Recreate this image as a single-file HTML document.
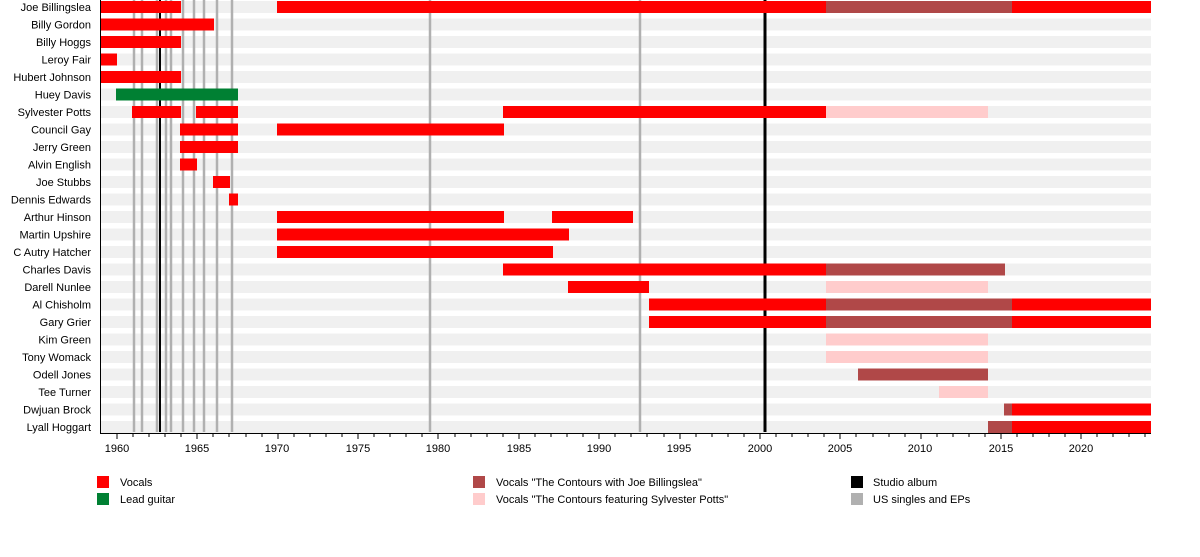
<!DOCTYPE html>
<html><head><meta charset="utf-8"><style>
body{margin:0;background:#fff;}
svg{display:block;font-family:"Liberation Sans",sans-serif;font-size:11px;}
</style></head><body>
<svg width="1200" height="557" viewBox="0 0 1200 557" xmlns="http://www.w3.org/2000/svg">
<g fill="#f0f0f0">
<rect x="100" y="1" width="1051" height="12"/><rect x="100" y="18.5" width="1051" height="12"/><rect x="100" y="36" width="1051" height="12"/><rect x="100" y="53.5" width="1051" height="12"/><rect x="100" y="71" width="1051" height="12"/><rect x="100" y="88.5" width="1051" height="12"/><rect x="100" y="106" width="1051" height="12"/><rect x="100" y="123.5" width="1051" height="12"/><rect x="100" y="141" width="1051" height="12"/><rect x="100" y="158.5" width="1051" height="12"/><rect x="100" y="176" width="1051" height="12"/><rect x="100" y="193.5" width="1051" height="12"/><rect x="100" y="211" width="1051" height="12"/><rect x="100" y="228.5" width="1051" height="12"/><rect x="100" y="246" width="1051" height="12"/><rect x="100" y="263.5" width="1051" height="12"/><rect x="100" y="281" width="1051" height="12"/><rect x="100" y="298.5" width="1051" height="12"/><rect x="100" y="316" width="1051" height="12"/><rect x="100" y="333.5" width="1051" height="12"/><rect x="100" y="351" width="1051" height="12"/><rect x="100" y="368.5" width="1051" height="12"/><rect x="100" y="386" width="1051" height="12"/><rect x="100" y="403.5" width="1051" height="12"/><rect x="100" y="421" width="1051" height="12"/>
</g>
<g stroke="#b0b0b0" stroke-width="2.5">
<line x1="134" y1="0" x2="134" y2="432"/><line x1="142" y1="0" x2="142" y2="432"/><line x1="157" y1="0" x2="157" y2="432"/><line x1="166" y1="0" x2="166" y2="432"/><line x1="171" y1="0" x2="171" y2="432"/><line x1="183" y1="0" x2="183" y2="432"/><line x1="194" y1="0" x2="194" y2="432"/><line x1="204" y1="0" x2="204" y2="432"/><line x1="217" y1="0" x2="217" y2="432"/><line x1="232" y1="0" x2="232" y2="432"/><line x1="430" y1="0" x2="430" y2="432"/><line x1="640" y1="0" x2="640" y2="432"/>
</g>
<g stroke="#000">
<line x1="160" y1="0" x2="160" y2="432" stroke-width="2"/><line x1="765" y1="0" x2="765" y2="432" stroke-width="3"/>
</g>
<g>
<rect x="100" y="1" width="81" height="12" fill="#f00"/><rect x="277" y="1" width="549" height="12" fill="#f00"/><rect x="826" y="1" width="186" height="12" fill="#b04848"/><rect x="1012" y="1" width="139" height="12" fill="#f00"/>
<rect x="100" y="18.5" width="114" height="12" fill="#f00"/>
<rect x="100" y="36" width="81" height="12" fill="#f00"/>
<rect x="100" y="53.5" width="17" height="12" fill="#f00"/>
<rect x="100" y="71" width="81" height="12" fill="#f00"/>
<rect x="116" y="88.5" width="122" height="12" fill="#008033"/>
<rect x="132" y="106" width="49" height="12" fill="#f00"/><rect x="196" y="106" width="42" height="12" fill="#f00"/><rect x="503" y="106" width="323" height="12" fill="#f00"/><rect x="826" y="106" width="162" height="12" fill="#ffcccc"/>
<rect x="180" y="123.5" width="58" height="12" fill="#f00"/><rect x="277" y="123.5" width="227" height="12" fill="#f00"/>
<rect x="180" y="141" width="58" height="12" fill="#f00"/>
<rect x="180" y="158.5" width="17" height="12" fill="#f00"/>
<rect x="213" y="176" width="17" height="12" fill="#f00"/>
<rect x="229" y="193.5" width="9" height="12" fill="#f00"/>
<rect x="277" y="211" width="227" height="12" fill="#f00"/><rect x="552" y="211" width="81" height="12" fill="#f00"/>
<rect x="277" y="228.5" width="292" height="12" fill="#f00"/>
<rect x="277" y="246" width="276" height="12" fill="#f00"/>
<rect x="503" y="263.5" width="323" height="12" fill="#f00"/><rect x="826" y="263.5" width="179" height="12" fill="#b04848"/>
<rect x="568" y="281" width="81" height="12" fill="#f00"/><rect x="826" y="281" width="162" height="12" fill="#ffcccc"/>
<rect x="649" y="298.5" width="177" height="12" fill="#f00"/><rect x="826" y="298.5" width="186" height="12" fill="#b04848"/><rect x="1012" y="298.5" width="139" height="12" fill="#f00"/>
<rect x="649" y="316" width="177" height="12" fill="#f00"/><rect x="826" y="316" width="186" height="12" fill="#b04848"/><rect x="1012" y="316" width="139" height="12" fill="#f00"/>
<rect x="826" y="333.5" width="162" height="12" fill="#ffcccc"/>
<rect x="826" y="351" width="162" height="12" fill="#ffcccc"/>
<rect x="858" y="368.5" width="130" height="12" fill="#b04848"/>
<rect x="939" y="386" width="49" height="12" fill="#ffcccc"/>
<rect x="1004" y="403.5" width="8" height="12" fill="#b04848"/><rect x="1012" y="403.5" width="139" height="12" fill="#f00"/>
<rect x="988" y="421" width="24" height="12" fill="#b04848"/><rect x="1012" y="421" width="139" height="12" fill="#f00"/>
</g>
<g text-anchor="end" fill="#000">
<text x="91" y="11">Joe Billingslea</text><text x="91" y="28.5">Billy Gordon</text><text x="91" y="46">Billy Hoggs</text><text x="91" y="63.5">Leroy Fair</text><text x="91" y="81">Hubert Johnson</text><text x="91" y="98.5">Huey Davis</text><text x="91" y="116">Sylvester Potts</text><text x="91" y="133.5">Council Gay</text><text x="91" y="151">Jerry Green</text><text x="91" y="168.5">Alvin English</text><text x="91" y="186">Joe Stubbs</text><text x="91" y="203.5">Dennis Edwards</text><text x="91" y="221">Arthur Hinson</text><text x="91" y="238.5">Martin Upshire</text><text x="91" y="256">C Autry Hatcher</text><text x="91" y="273.5">Charles Davis</text><text x="91" y="291">Darell Nunlee</text><text x="91" y="308.5">Al Chisholm</text><text x="91" y="326">Gary Grier</text><text x="91" y="343.5">Kim Green</text><text x="91" y="361">Tony Womack</text><text x="91" y="378.5">Odell Jones</text><text x="91" y="396">Tee Turner</text><text x="91" y="413.5">Dwjuan Brock</text><text x="91" y="431">Lyall Hoggart</text>
</g>
<g stroke="#000" stroke-width="1">
<line x1="100" y1="433.5" x2="1151" y2="433.5"/>
<line x1="100.5" y1="0" x2="100.5" y2="434"/>
</g>
<g stroke="#000" stroke-width="1">
<path d="M117 433v6M133 433v4M149 433v4M165 433v4M181 433v4M197 433v6M213 433v4M229 433v4M246 433v4M262 433v4M278 433v6M294 433v4M310 433v4M326 433v4M342 433v4M358 433v6M374 433v4M390 433v4M406 433v4M422 433v4M438 433v6M455 433v4M471 433v4M487 433v4M503 433v4M519 433v6M535 433v4M551 433v4M567 433v4M583 433v4M599 433v6M615 433v4M631 433v4M647 433v4M664 433v4M680 433v6M696 433v4M712 433v4M728 433v4M744 433v4M760 433v6M776 433v4M792 433v4M808 433v4M824 433v4M840 433v6M856 433v4M873 433v4M889 433v4M905 433v4M921 433v6M937 433v4M953 433v4M969 433v4M985 433v4M1001 433v6M1017 433v4M1033 433v4M1049 433v4M1065 433v4M1081 433v6M1097 433v4M1113 433v4M1129 433v4M1145 433v4"/>
</g>
<g text-anchor="middle" fill="#000">
<text x="117" y="452">1960</text><text x="197" y="452">1965</text><text x="277" y="452">1970</text><text x="358" y="452">1975</text><text x="438" y="452">1980</text><text x="519" y="452">1985</text><text x="599" y="452">1990</text><text x="679" y="452">1995</text><text x="760" y="452">2000</text><text x="840" y="452">2005</text><text x="920" y="452">2010</text><text x="1001" y="452">2015</text><text x="1081" y="452">2020</text>
</g>
<g>
<rect x="97" y="476" width="12" height="12" fill="#f00"/><text x="120" y="486">Vocals</text>
<rect x="97" y="493" width="12" height="12" fill="#008033"/><text x="120" y="503">Lead guitar</text>
<rect x="473" y="476" width="12" height="12" fill="#b04848"/><text x="496" y="486">Vocals "The Contours with Joe Billingslea"</text>
<rect x="473" y="493" width="12" height="12" fill="#ffcccc"/><text x="496" y="503">Vocals "The Contours featuring Sylvester Potts"</text>
<rect x="851" y="476" width="12" height="12" fill="#000"/><text x="873" y="486">Studio album</text>
<rect x="851" y="493" width="12" height="12" fill="#b0b0b0"/><text x="873" y="503">US singles and EPs</text>
</g>
</svg>
</body></html>
